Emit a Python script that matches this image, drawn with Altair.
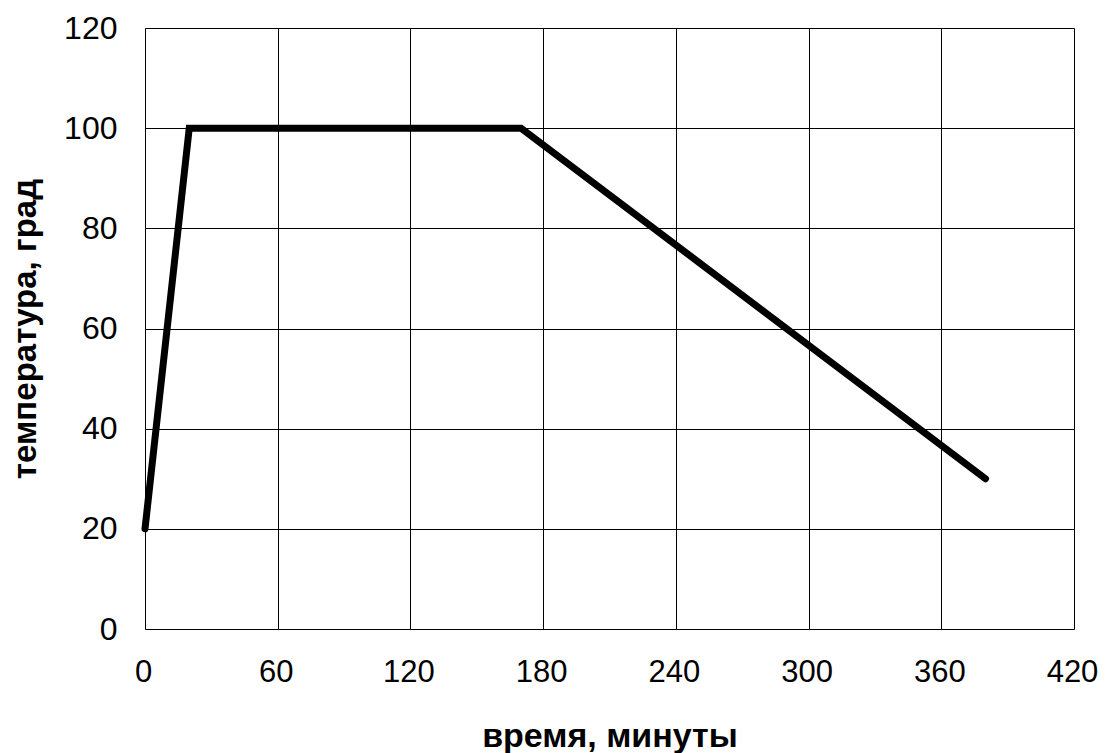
import altair as alt
import pandas as pd

minutes = [0, 20, 170, 380]
temperature = [20, 100, 100, 30]

df = pd.DataFrame({"t": minutes, "T": temperature, "order": list(range(len(minutes)))})

FONT = "Liberation Sans"

line = alt.Chart(df).mark_line(
    color="black", strokeWidth=7, strokeCap="round", strokeJoin="miter"
).encode(
    x=alt.X("t:Q",
            scale=alt.Scale(domain=[0, 420], nice=False, zero=False),
            axis=alt.Axis(values=[0, 60, 120, 180, 240, 300, 360, 420],
                          title="время, минуты",
                          labelFontSize=31, labelPadding=28, labelFont=FONT, labelColor="black",
                          labelFlush=False, labelOverlap=False, labelOffset=-2,
                          titleFontSize=34, titleFont=FONT, titleFontWeight="bold", titleColor="black",
                          titleY=117, titleBaseline="alphabetic",
                          ticks=False, domain=False,
                          grid=True, gridColor="black", gridWidth=1, gridOpacity=1)),
    y=alt.Y("T:Q",
            scale=alt.Scale(domain=[0, 120], nice=False),
            axis=alt.Axis(values=[0, 20, 40, 60, 80, 100, 120],
                          title="температура, град",
                          labelFontSize=32, labelPadding=28, labelFont=FONT, labelColor="black",
                          labelFlush=False, labelOverlap=False,
                          titleFontSize=33, titleFont=FONT, titleFontWeight="bold", titleColor="black",
                          titleX=-110, titleBaseline="alphabetic",
                          ticks=False, domain=False,
                          grid=True, gridColor="black", gridWidth=1, gridOpacity=1)),
    order="order:Q",
)

chart = line.properties(
    width=929, height=601,
    autosize=alt.AutoSizeParams(type="none"),
    padding={"left": 137, "top": 20, "right": 25, "bottom": 124},
).configure_view(
    stroke="#808080", strokeWidth=2
).configure(background="white")

chart.save("out.html", embed_options={"renderer": "svg", "actions": False})
